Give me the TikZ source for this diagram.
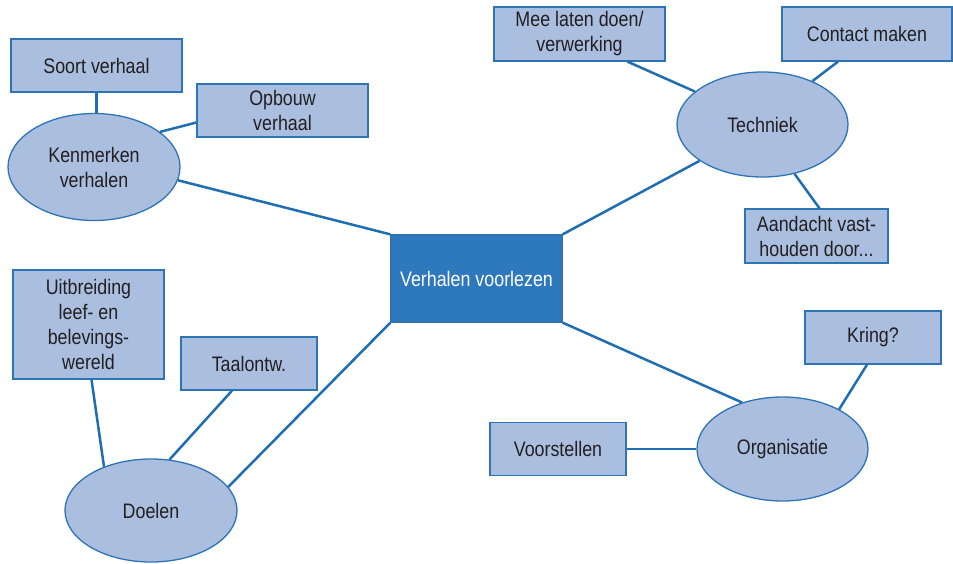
\documentclass[tikz,border=0pt]{standalone}
\usepackage{fontspec}
\setmainfont{Liberation Sans}[FakeStretch=0.85]
\usetikzlibrary{shapes.geometric,calc}
\definecolor{boxfill}{HTML}{AABEDF}
\definecolor{boxline}{HTML}{2E74B5}
\definecolor{linkc}{HTML}{1F6DB2}
\definecolor{mainfill}{HTML}{2E78BE}
\definecolor{txt}{HTML}{231F20}
\begin{document}
\begin{tikzpicture}[x=1pt,y=-1pt,
  every node/.style={font=\fontsize{21}{25}\selectfont, text=txt, align=center, inner sep=0pt},
  leaf/.style={rectangle, draw=boxline, fill=boxfill, line width=1.3pt},
  topic/.style={ellipse, draw=boxline, fill=boxfill, line width=1.3pt},
  hub/.style={rectangle, draw=boxline, fill=mainfill, line width=1.3pt, text=white},
  link/.style={draw=linkc, line width=2.5pt}]
\useasboundingbox (0,0) rectangle (953,563);
% hub
\node[hub, minimum width=171pt, minimum height=87pt] (hub) at (476.5,278.5) {Verhalen voorlezen};
% topics
\node[topic, minimum width=172pt, minimum height=107pt] (kenm) at (94,167) {Kenmerken\\verhalen};
\node[topic, minimum width=171pt, minimum height=105pt] (tech) at (762.5,124.5) {Techniek};
\node[topic, minimum width=172pt, minimum height=103pt] (doel) at (151,510.5) {Doelen};
\node[topic, minimum width=171pt, minimum height=104pt] (org) at (782.5,449) {Organisatie};
% leaves
\node[leaf, minimum width=171pt, minimum height=53pt] (soort) at (96.5,65.5) {Soort verhaal};
\node[leaf, minimum width=171pt, minimum height=53pt] (opb) at (282.5,110.5) {Opbouw\\verhaal};
\node[leaf, minimum width=171pt, minimum height=54pt] (mee) at (579.5,34) {Mee laten doen/\\verwerking};
\node[leaf, minimum width=170pt, minimum height=54pt] (contact) at (867,34) {Contact maken};
\node[leaf, minimum width=143pt, minimum height=54pt] (aand) at (816.5,236) {Aandacht vast-\\houden door...};
\node[leaf, minimum width=151pt, minimum height=109pt] (uitb) at (88.5,324.5) {Uitbreiding\\leef- en\\belevings-\\wereld};
\node[leaf, minimum width=136pt, minimum height=53pt] (taal) at (249,363.5) {Taalontw.};
\node[leaf, minimum width=136pt, minimum height=53pt] (kring) at (873,337.5) {Kring?};
\node[leaf, minimum width=136pt, minimum height=53pt] (voor) at (558,449) {Voorstellen};
% connectors
\draw[link] (soort.south) -- (kenm.north -| soort.south);
\draw[link] ($(opb.west)+(0,12)$) -- (kenm.28);
\draw[link] (kenm.-9) -- (hub.north west);
\draw[link] ($(mee.south)+(48,0)$) -- (tech.154);
\draw[link] ($(contact.south)+(-29,0)$) -- (tech.41);
\draw[link] (tech.210) -- (hub.north east);
\draw[link] (tech.-57) -- ($(aand.north)+(3,0)$);
\draw[link] (hub.south east) -- (org.131);
\draw[link] ($(kring.south)+(-6,0)$) -- (org.35);
\draw[link] (voor.east) -- (org.west);
\draw[link] (hub.south west) -- (doel.17);
\draw[link] ($(taal.south)+(-17,0)$) -- (doel.70);
\draw[link] ($(uitb.south)+(3,0)$) -- (doel.137);
\end{tikzpicture}
\end{document}
